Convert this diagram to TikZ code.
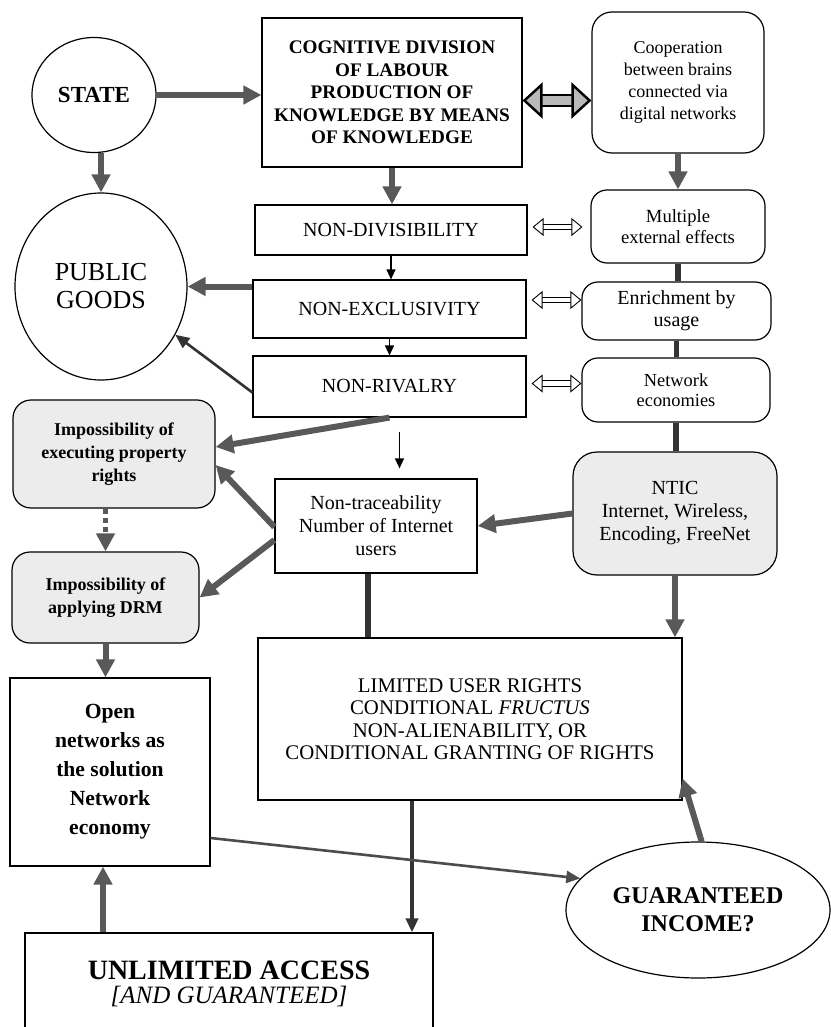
\documentclass[tikz,border=0pt]{standalone}
\usepackage{fontspec}
\setmainfont{Liberation Serif}
\usetikzlibrary{positioning, arrows.meta, shapes.geometric}

\begin{document}
\begin{tikzpicture}[x=0.5pt, y=-0.5pt, >=stealth,
    box/.style={draw, rectangle, align=center, inner sep=0pt, line width=0.6pt},
    soft/.style={box, rounded corners=9pt},
    grey/.style={soft, fill=gray!15},
    ring/.style={draw, ellipse, align=center, inner sep=0pt, line width=0.6pt},
    fat/.style={line width=3pt, draw=black!65, -{Triangle[width=9pt,length=9pt,fill=black!65]}},
    med/.style={line width=1.3pt, draw=black!80, -{Triangle[width=6pt,length=7pt]}},
    bar/.style={line width=2.6pt, draw=black!80},
    slim/.style={line width=0.7pt, -{Triangle[width=4.5pt,length=5pt]}},
    twin/.style={double, double distance=2.4pt, line width=0.45pt,
        {Triangle[open, width=9pt, length=5.5pt, line width=0.45pt]}-{Triangle[open, width=9pt, length=5.5pt, line width=0.45pt]}},
    bigtwin/.style={double=gray!55, double distance=4.5pt, line width=1.2pt,
        {Triangle[open, fill=gray!55, width=18pt, length=10pt, line width=1.2pt]}-{Triangle[open, fill=gray!55, width=18pt, length=10pt, line width=1.2pt]}}]

    \useasboundingbox (0,0) rectangle (830,1027);

    % --- Top row ---
    \node[ring, minimum width=62pt, minimum height=57.5pt,
          font={\fontsize{11.5}{12}\selectfont\bfseries}] (state) at (94,95) {STATE};
    \node[box, minimum width=130pt, minimum height=74.5pt,
          font={\fontsize{9.6}{11.25}\selectfont\bfseries}] (cog) at (392,92.5)
          {COGNITIVE DIVISION\\OF LABOUR\\PRODUCTION OF\\KNOWLEDGE BY MEANS\\OF KNOWLEDGE};
    \node[soft, rounded corners=10pt, minimum width=86pt, minimum height=70.5pt,
          font={\fontsize{9}{11}\selectfont}] (coop) at (678,82.5)
          {Cooperation\\between brains\\connected via\\digital networks};

    % --- Right column (network side) ---
    \node[soft, rounded corners=8pt, minimum width=87pt, minimum height=36.5pt,
          font={\fontsize{9.3}{10.5}\selectfont}] (multi) at (678,226.5) {Multiple\\external effects};
    \node[soft, rounded corners=8pt, minimum width=94.5pt, minimum height=29pt,
          font={\fontsize{10}{11}\selectfont}] (enrich) at (676.5,311) {Enrichment by\\usage};
    \node[soft, rounded corners=8pt, minimum width=94pt, minimum height=32pt,
          font={\fontsize{9.2}{10}\selectfont}] (neteco) at (676,390) {Network\\economies};
    \node[grey, rounded corners=12pt, minimum width=102pt, minimum height=61.5pt,
          font={\fontsize{10}{11.5}\selectfont}] (ntic) at (675,513.5)
          {NTIC\\Internet, Wireless,\\Encoding, FreeNet};

    % --- Middle column (properties) ---
    \node[box, minimum width=136pt, minimum height=25pt,
          font={\fontsize{10}{12}\selectfont}] (nondiv) at (391,230) {NON-DIVISIBILITY};
    \node[box, minimum width=136.5pt, minimum height=29pt,
          font={\fontsize{10}{12}\selectfont}] (nonexcl) at (389.5,309) {NON-EXCLUSIVITY};
    \node[box, minimum width=136.5pt, minimum height=30.5pt,
          font={\fontsize{10}{12}\selectfont}] (nonriv) at (389.5,386.5) {NON-RIVALRY};
    \node[box, minimum width=101pt, minimum height=47pt,
          font={\fontsize{10}{11.5}\selectfont}] (nontrace) at (376,526)
          {Non-traceability\\Number of Internet\\users};
    \node[box, minimum width=212pt, minimum height=81pt,
          font={\fontsize{10.4}{11.25}\selectfont}] (limited) at (470,719)
          {LIMITED USER RIGHTS\\CONDITIONAL \textit{FRUCTUS}\\NON-ALIENABILITY, OR\\CONDITIONAL GRANTING OF RIGHTS};

    % --- Left column ---
    \node[ring, minimum width=86pt, minimum height=93.5pt,
          font={\fontsize{13}{14}\selectfont}] (public) at (101,286.5) {PUBLIC\\GOODS};
    \node[grey, minimum width=101pt, minimum height=54pt,
          font={\fontsize{9}{11.5}\selectfont\bfseries}] (impexec) at (114,454)
          {Impossibility of\\executing property\\rights};
    \node[grey, minimum width=93.5pt, minimum height=45.5pt,
          font={\fontsize{9}{11.5}\selectfont\bfseries}] (impdrm) at (105.5,597.5)
          {Impossibility of\\applying DRM};
    \node[box, minimum width=100pt, minimum height=94pt,
          font={\fontsize{10.8}{14.5}\selectfont\bfseries}] (open) at (110,772)
          {Open\\networks as\\the solution\\Network\\economy};

    % --- Bottom row ---
    \node[box, minimum width=204pt, minimum height=51pt] (unlim) at (229,984)
          {{\fontsize{14}{15}\selectfont\bfseries UNLIMITED ACCESS}\\
           {\fontsize{12.5}{14}\selectfont\itshape [AND GUARANTEED]}};
    \node[ring, minimum width=132pt, minimum height=68pt,
          font={\fontsize{12}{14}\selectfont\bfseries}] (guar) at (698,910)
          {GUARANTEED\\INCOME?};

    % --- Connectors, top ---
    \draw[fat] (state.east) -- (state.east -| cog.west);
    \draw[fat] (state.south -| public.north) -- (public.north);
    \draw[bigtwin] ([yshift=-4pt]cog.east) -- ([yshift=-4pt]cog.east -| coop.west);
    \draw[fat] (cog.south) -- (cog.south |- nondiv.north);
    \draw[fat] (coop.south) -- (multi.north);

    % right column is one thick spine
    \draw[bar] (multi.south) -- (multi.south |- enrich.north);
    \draw[bar] (enrich.south) -- (enrich.south |- neteco.north);
    \draw[bar] (neteco.south) -- (neteco.south |- ntic.north);

    % middle column chain
    \draw[slim] (nondiv.south) -- (nondiv.south |- nonexcl.north);
    \draw[slim] (nonexcl.south) -- (nonexcl.south |- nonriv.north);

    % open double arrows between columns
    \draw[twin, shorten <=2.5pt, shorten >=4pt] ([yshift=1.5pt]nondiv.east) -- ([yshift=1.5pt]nondiv.east -| multi.west);
    \draw[twin, shorten <=2.5pt] ([yshift=4.5pt]nonexcl.east) -- ([yshift=4.5pt]nonexcl.east -| enrich.west);
    \draw[twin, shorten <=2.5pt] ([yshift=1.5pt]nonriv.east) -- ([yshift=1.5pt]nonriv.east -| neteco.west);

    % towards public goods and the impossibilities
    \draw[fat] (public.east -| nonexcl.west) -- (public.east);
    \draw[med] ([yshift=-3pt]nonriv.west) -- (public.-33);
    \draw[fat] (nonriv.south) -- ([yshift=3.5pt]impexec.east);
    \draw[slim, shorten <=7pt, shorten >=5pt] ([xshift=5pt]nonriv.south) -- ([xshift=5pt]nonriv.south |- nontrace.north);
    \draw[fat] ([yshift=-0.5pt]nontrace.west) -- ([yshift=-5.5pt]impexec.east);
    \draw[fat] ([yshift=-7pt]nontrace.west) -- (impdrm.east);
    \draw[fat] (ntic.west) -- (nontrace.east);

    % down to the rights box
    \draw[bar] ([xshift=-4pt]nontrace.south) -- ([xshift=-4pt]nontrace.south |- limited.north);
    \draw[fat] (ntic.south) -- (ntic.south |- limited.north);

    % left column chain
    \draw[fat, dash pattern=on 2.5pt off 2pt, line width=2.6pt] (impdrm.north |- impexec.south) -- (impdrm.north);
    \draw[fat] (impdrm.south) -- (impdrm.south |- open.north);
    \draw[fat] ([xshift=-3.5pt]open.south |- unlim.north) -- ([xshift=-3.5pt]open.south);

    % bottom
    \draw[med, line width=2pt] ([xshift=-29pt]limited.south) -- ([xshift=-29pt]limited.south |- unlim.north);
    \draw[med, draw=black!70] ([yshift=-33pt]open.east) -- (guar.165);
    \draw[fat] (guar.87) -- ([yshift=11pt]limited.south east);

\end{tikzpicture}
\end{document}
